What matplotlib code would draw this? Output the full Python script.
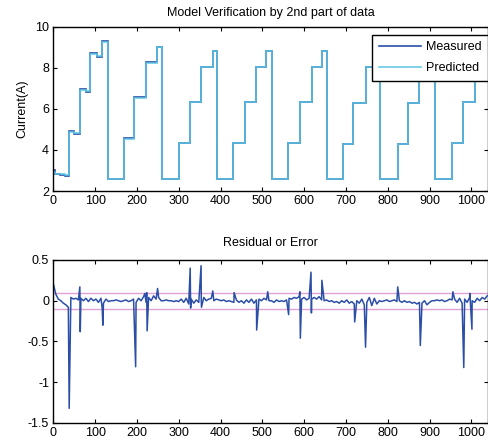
import numpy as np
import matplotlib.pyplot as plt
from matplotlib.ticker import FormatStrFormatter

plt.rcParams['font.family'] = ['Liberation Sans', 'DejaVu Sans']
plt.rcParams['axes.unicode_minus'] = False

# top panel: current steps (edges in samples, levels in A)
step_edges = [0, 3, 15, 28, 37, 50, 64, 78, 88, 104, 116, 130,
              168, 194, 222, 248, 260,
              300, 326, 354, 382, 392,
              430, 458, 484, 510, 524,
              562, 590, 618, 642, 654,
              692, 718, 748, 770, 782,
              824, 848, 876, 900, 912,
              954, 980, 1008, 1038]
measured = [3.0, 2.85, 2.8, 2.72, 4.92, 4.8, 6.95, 6.85, 8.72, 8.55, 9.3, 2.58,
            4.57, 6.57, 8.28, 9.04, 2.58,
            4.36, 6.36, 8.06, 8.83, 2.58,
            4.33, 6.33, 8.06, 8.83, 2.57,
            4.33, 6.36, 8.06, 8.85, 2.57,
            4.29, 6.28, 8.06, 8.8, 2.58,
            4.29, 6.28, 8.06, 8.8, 2.58,
            4.33, 6.36, 8.06]
predicted = [2.95, 2.85, 2.82, 2.8, 4.88, 4.84, 6.92, 6.88, 8.7, 8.6, 9.28, 2.6,
             4.55, 6.55, 8.26, 9.02, 2.6,
             4.35, 6.35, 8.05, 8.82, 2.6,
             4.32, 6.32, 8.05, 8.82, 2.59,
             4.32, 6.35, 8.05, 8.84, 2.59,
             4.28, 6.27, 8.05, 8.79, 2.6,
             4.28, 6.27, 8.05, 8.79, 2.6,
             4.32, 6.35, 8.05]

# bottom panel: residual baseline every 6 samples, plus the spikes
base_x = np.arange(0, 1044, 6)
base_y = [0.21, 0.08, 0.02, 0.00, -0.03, -0.05, -0.08, 0.04, 0.02, 0.03,
          0.01, 0.03, 0.00, 0.03, -0.01, 0.03, 0.00, 0.02, -0.02, 0.03,
          -0.03, 0.02, -0.01, 0.00, 0.00, 0.01, 0.00, -0.01, 0.00, 0.01,
          -0.01, 0.00, 0.02, -0.02, 0.03, 0.00, 0.05, -0.02, 0.04, 0.00,
          0.06, 0.02, 0.04, 0.00, 0.00, 0.01, 0.00, 0.00, -0.01, 0.00,
          -0.01, 0.02, -0.02, 0.03, -0.04, 0.02, -0.03, 0.01, -0.02, 0.00,
          0.04, 0.00, 0.02, 0.03, 0.00, 0.02, 0.01, 0.00, 0.01, -0.01,
          0.00, -0.01, -0.02, 0.01, -0.02, 0.00, -0.03, 0.01, -0.02, 0.02,
          -0.03, 0.01, 0.02, 0.00, 0.03, 0.01, 0.00, 0.00, -0.02, 0.01,
          -0.01, 0.00, -0.01, 0.01, 0.03, 0.02, 0.04, 0.03, 0.05, 0.02,
          0.04, 0.01, 0.03, 0.02, 0.04, 0.02, 0.05, 0.01, 0.00, 0.01,
          -0.01, 0.00, -0.02, -0.01, -0.03, 0.00, -0.02, 0.01, -0.03, -0.01,
          -0.04, 0.00, -0.03, 0.02, -0.05, -0.02, 0.04, -0.06, 0.03, -0.04,
          0.00, -0.01, 0.00, 0.01, -0.01, 0.00, 0.01, -0.01, 0.00, -0.02,
          0.00, -0.02, -0.01, -0.03, -0.02, -0.04, -0.02, -0.03, 0.00, -0.05,
          -0.02, 0.00, 0.00, 0.01, 0.00, 0.01, -0.01, 0.00, 0.02, 0.01,
          0.02, -0.02, 0.03, -0.03, 0.02, -0.02, 0.04, 0.00, -0.02, 0.03,
          0.00, 0.04, 0.02, 0.06]
spike_x = [38, 63.5, 64.5, 117, 118.5, 197, 219, 223.5, 224.5, 249.5,
           327.5, 328.5, 353.5, 354.5, 381.5, 432.5, 486.5, 513, 563,
           590, 591, 616.5, 617.5, 642.5, 721, 747, 824, 878, 956, 982,
           996.5, 1001.5]
spike_y = [-1.32, 0.17, -0.38, -0.09, -0.30, -0.81, 0.09, 0.10, -0.37, 0.15,
           0.40, -0.09, 0.43, -0.08, 0.12, 0.10, -0.36, 0.11, -0.17,
           0.11, -0.46, 0.35, -0.15, 0.25, -0.26, -0.57, 0.17, -0.55, 0.11, -0.82,
           0.09, -0.35]
limit = 0.1

res_x = np.concatenate([base_x, spike_x])
res_y = np.concatenate([base_y, spike_y])
order = np.argsort(res_x, kind='stable')
res_x = res_x[order]
res_y = res_y[order]

dark_blue = '#2b4ea8'
light_blue = '#5cc6e4'

fig = plt.figure(figsize=(4.89, 4.47), dpi=100)
ax1 = fig.add_axes([0.109, 0.5727, 0.889, 0.367])
ax2 = fig.add_axes([0.109, 0.0537, 0.889, 0.3647])

ax1.stairs(measured, step_edges, color=dark_blue, linewidth=1.2, label='Measured', baseline=None)
ax1.stairs(predicted, step_edges, color=light_blue, linewidth=1.1, label='Predicted', baseline=None)
ax1.set_xlim(0, 1040)
ax1.set_ylim(2, 10)
ax1.set_yticks([2, 4, 6, 8, 10])
ax1.set_title('Model Verification by 2nd part of data', fontsize=9, pad=8)
ax1.set_ylabel('Current(A)', fontsize=9, labelpad=5)
leg = ax1.legend(loc='upper right', bbox_to_anchor=(1.0, 0.952), borderaxespad=0,
                 fontsize=9, fancybox=False, framealpha=1, edgecolor='black',
                 handlelength=3.4, handletextpad=0.4, labelspacing=0.75,
                 borderpad=0.5)
leg.get_frame().set_linewidth(1.0)

ax2.plot(res_x, res_y, color=dark_blue, linewidth=1.1)
ax2.axhline(limit, color='#e0a2d2', linewidth=1.0, zorder=0)
ax2.axhline(-limit, color='#e0a2d2', linewidth=1.0, zorder=0)
ax2.set_xlim(0, 1040)
ax2.set_ylim(-1.5, 0.5)
ax2.set_yticks([-1.5, -1, -0.5, 0, 0.5])
ax2.yaxis.set_major_formatter(FormatStrFormatter('%g'))
ax2.set_title('Residual or Error', fontsize=9, pad=10)

for ax in (ax1, ax2):
    ax.set_xticks(np.arange(0, 1001, 100))
    ax.tick_params(direction='in', top=True, right=True, length=3, width=0.8,
                   labelsize=9, pad=3)
    for sp in ax.spines.values():
        sp.set_linewidth(1.0)

fig.savefig('out.png', dpi=100)
